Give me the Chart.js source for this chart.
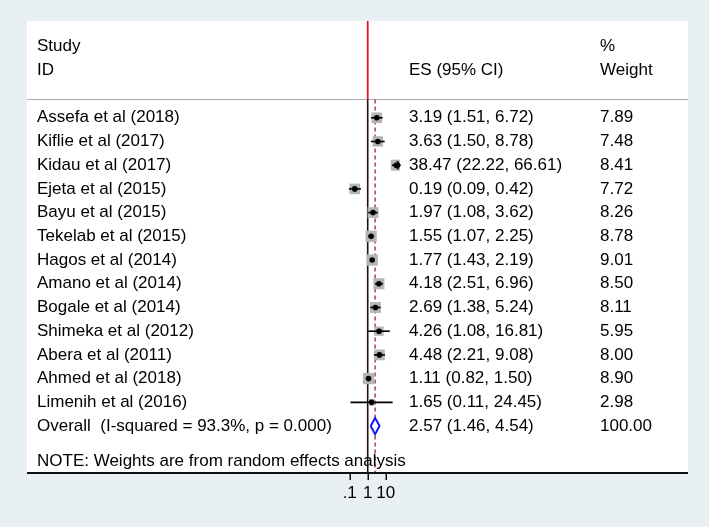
<!DOCTYPE html>
<html>
<head>
<meta charset="utf-8">
<script src="https://cdn.jsdelivr.net/npm/chart.js@4.4.1/dist/chart.umd.min.js"></script>
<style>
  html, body { margin: 0; padding: 0; background: #e9f0f3; }
  #wrap { width: 709px; height: 527px; }
</style>
</head>
<body>
<div id="wrap"><canvas id="forest" width="709" height="527"></canvas></div>
<script>
// -------------------------------
// DATA
// -------------------------------
const studies = [
  "Assefa et al (2018)", "Kiflie et al (2017)", "Kidau et al (2017)",
  "Ejeta et al (2015)", "Bayu et al (2015)", "Tekelab et al (2015)",
  "Hagos et al (2014)", "Amano et al (2014)", "Bogale et al (2014)",
  "Shimeka et al (2012)", "Abera et al (2011)", "Ahmed et al (2018)",
  "Limenih et al (2016)"
];
const es = [3.19, 3.63, 38.47, 0.19, 1.97, 1.55, 1.77, 4.18, 2.69, 4.26, 4.48, 1.11, 1.65];
const ciLow = [1.51, 1.50, 22.22, 0.09, 1.08, 1.07, 1.43, 2.51, 1.38, 1.08, 2.21, 0.82, 0.11];
const ciHigh = [6.72, 8.78, 66.61, 0.42, 3.62, 2.25, 2.19, 6.96, 5.24, 16.81, 9.08, 1.50, 24.45];
const weights = [7.89, 7.48, 8.41, 7.72, 8.26, 8.78, 9.01, 8.50, 8.11, 5.95, 8.00, 8.90, 2.98];

const overallLabel = "Overall  (I-squared = 93.3%, p = 0.000)";
const overallEs = 2.57;
const overallLow = 1.46;
const overallHigh = 4.54;
const overallWeight = 100.00;

const noteText = "NOTE: Weights are from random effects analysis";
const xTickValues = [0.1, 1, 10];
const xTickLabels = [".1", "1", "10"];

// -------------------------------
// HELPERS
// -------------------------------
const FONT = "17px 'Liberation Sans', Arial, sans-serif";
const overallRow = studies.length + 1;
const fmt = (v) => v.toFixed(2);

// frame of the white plot region
const frame = { left: 27, top: 21, right: 688, bottom: 473 };
const colStudy = 37;
const colEs = 409;
const colWeight = 600;

// -------------------------------
// DATASETS
// -------------------------------
const datasets = [];

// grey weight boxes
datasets.push({
  data: es.map((v, i) => ({ x: v, y: i + 1 })),
  pointStyle: "rect",
  pointRadius: weights.map(w => 3.8 * Math.sqrt(w) / Math.SQRT2),
  backgroundColor: "#b5b5b5",
  borderWidth: 0,
  clip: 0,
  order: 4
});

// confidence intervals
es.forEach((v, i) => {
  datasets.push({
    data: [{ x: ciLow[i], y: i + 1 }, { x: ciHigh[i], y: i + 1 }],
    showLine: true,
    borderColor: "#000",
    borderWidth: 1.6,
    pointRadius: 0,
    clip: 0,
    order: 3
  });
});

// point estimates
datasets.push({
  data: es.map((v, i) => ({ x: v, y: i + 1 })),
  pointStyle: "circle",
  pointRadius: 2.8,
  backgroundColor: "#000",
  borderWidth: 0,
  clip: 0,
  order: 2
});

// pooled diamond
const dh = 0.34;
datasets.push({
  data: [
    { x: overallLow, y: overallRow },
    { x: overallEs, y: overallRow - dh },
    { x: overallHigh, y: overallRow },
    { x: overallEs, y: overallRow + dh },
    { x: overallLow, y: overallRow }
  ],
  showLine: true,
  borderColor: "#1515ff",
  borderWidth: 2,
  backgroundColor: "#fff",
  fill: "shape",
  pointRadius: 0,
  tension: 0,
  borderJoinStyle: "miter",
  order: 1
});

// -------------------------------
// DECORATION PLUGIN
// -------------------------------
const forestDecor = {
  id: "forestDecor",
  beforeDraw(chart) {
    const ctx = chart.ctx;
    ctx.save();
    ctx.fillStyle = "#e9f0f3";
    ctx.fillRect(0, 0, chart.width, chart.height);
    ctx.fillStyle = "#fff";
    ctx.fillRect(frame.left, frame.top, frame.right - frame.left, frame.bottom - frame.top);
    ctx.restore();
  },
  beforeDatasetsDraw(chart) {
    const ctx = chart.ctx;
    const xs = chart.scales.x, ys = chart.scales.y;
    const area = chart.chartArea;
    const sepY = Math.round(ys.getPixelForValue(0.2)) + 0.5;

    ctx.save();
    // header separator
    ctx.strokeStyle = "#a9a9a9";
    ctx.lineWidth = 1;
    ctx.beginPath();
    ctx.moveTo(frame.left, sepY);
    ctx.lineTo(frame.right, sepY);
    ctx.stroke();

    // null line
    const x1 = xs.getPixelForValue(1);
    ctx.strokeStyle = "#e8141c";
    ctx.lineWidth = 1.8;
    ctx.beginPath();
    ctx.moveTo(x1, area.top);
    ctx.lineTo(x1, sepY);
    ctx.stroke();
    ctx.strokeStyle = "#2a0a0a";
    ctx.lineWidth = 1.6;
    ctx.beginPath();
    ctx.moveTo(x1, sepY);
    ctx.lineTo(x1, area.bottom);
    ctx.stroke();

    // overall effect dashed line
    const xo = xs.getPixelForValue(overallEs);
    ctx.strokeStyle = "#a8444e";
    ctx.lineWidth = 1.5;
    ctx.setLineDash([4, 3]);
    ctx.beginPath();
    ctx.moveTo(xo, sepY);
    ctx.lineTo(xo, area.bottom);
    ctx.stroke();
    ctx.restore();
  },
  afterDatasetsDraw(chart) {
    const ctx = chart.ctx;
    const xs = chart.scales.x, ys = chart.scales.y;
    const area = chart.chartArea;
    ctx.save();
    // arrows where the CI leaves the plotted range
    ctx.strokeStyle = "#000";
    ctx.lineWidth = 1.6;
    ciHigh.forEach((h, i) => {
      if (h > xs.max) {
        const y = ys.getPixelForValue(i + 1);
        ctx.beginPath();
        ctx.moveTo(area.right - 3, y - 4);
        ctx.lineTo(area.right, y);
        ctx.lineTo(area.right - 3, y + 4);
        ctx.stroke();
      }
    });
    ciLow.forEach((l, i) => {
      if (l < xs.min) {
        const y = ys.getPixelForValue(i + 1);
        ctx.beginPath();
        ctx.moveTo(area.left + 3, y - 4);
        ctx.lineTo(area.left, y);
        ctx.lineTo(area.left + 3, y + 4);
        ctx.stroke();
      }
    });

    // axis line
    ctx.strokeStyle = "#111";
    ctx.lineWidth = 2;
    ctx.beginPath();
    ctx.moveTo(frame.left, area.bottom);
    ctx.lineTo(frame.right, area.bottom);
    ctx.stroke();

    // ticks + labels
    ctx.lineWidth = 1.5;
    ctx.fillStyle = "#000";
    ctx.font = FONT;
    ctx.textAlign = "center";
    ctx.textBaseline = "middle";
    xTickValues.forEach((v, i) => {
      const x = Math.round(xs.getPixelForValue(v)) + 0.25;
      ctx.beginPath();
      ctx.moveTo(x, area.bottom + 1);
      ctx.lineTo(x, area.bottom + 7);
      ctx.stroke();
      ctx.fillText(xTickLabels[i], xs.getPixelForValue(v), area.bottom + 20);
    });

    // text columns
    ctx.textAlign = "left";
    const rowText = (txt, x, row) => ctx.fillText(txt, x, ys.getPixelForValue(row));
    rowText("Study", colStudy, -2);
    rowText("ID", colStudy, -1);
    rowText("ES (95% CI)", colEs, -1);
    rowText("%", colWeight, -2);
    rowText("Weight", colWeight, -1);

    studies.forEach((s, i) => {
      rowText(s, colStudy, i + 1);
      rowText(`${fmt(es[i])} (${fmt(ciLow[i])}, ${fmt(ciHigh[i])})`, colEs, i + 1);
      rowText(fmt(weights[i]), colWeight, i + 1);
    });
    rowText(overallLabel, colStudy, overallRow);
    rowText(`${fmt(overallEs)} (${fmt(overallLow)}, ${fmt(overallHigh)})`, colEs, overallRow);
    rowText(fmt(overallWeight), colWeight, overallRow);
    rowText(noteText, colStudy, overallRow + 1.5);
    ctx.restore();
  }
};

// -------------------------------
// CHART
// -------------------------------
const ctx = document.getElementById("forest").getContext("2d");
new Chart(ctx, {
  type: "scatter",
  data: { datasets: datasets },
  options: {
    responsive: false,
    devicePixelRatio: 1,
    animation: false,
    layout: { padding: { left: 335, right: 309, top: 21, bottom: 54 } },
    plugins: { legend: { display: false }, tooltip: { enabled: false } },
    scales: {
      x: {
        type: "logarithmic",
        display: false,
        bounds: "data",
        min: 0.0152,
        max: 62.3
      },
      y: {
        type: "linear",
        display: false,
        bounds: "data",
        reverse: true,
        min: -3.08,
        max: 15.98
      }
    }
  },
  plugins: [forestDecor]
});
</script>
</body>
</html>
